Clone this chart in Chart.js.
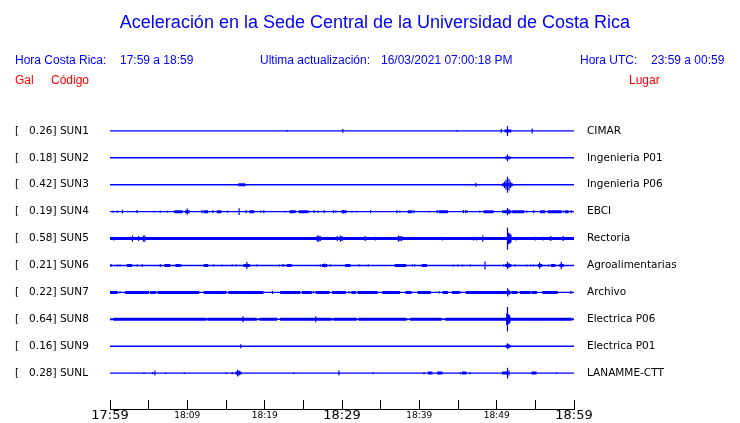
<!DOCTYPE html>
<html>
<head>
<meta charset="utf-8">
<script src="https://cdn.jsdelivr.net/npm/chart.js@4"></script>
<style>
  body { margin: 0; background: #fff; }
  #wrap { position: relative; width: 740px; height: 423px; }
  #chart { position: absolute; left: 0; top: 0; }
  .txt { position: absolute; font-family: "Liberation Sans", Arial, sans-serif; white-space: pre; line-height: 14px; }
  .blue { color: #0000ff; }
  .red { color: #ff0000; }
</style>
</head>
<body>
<div id="wrap">
  <canvas id="chart" width="740" height="423"></canvas>
  <div class="txt blue" style="left:0;width:750px;text-align:center;top:12px;font-size:18px;line-height:20px;">Aceleración en la Sede Central de la Universidad de Costa Rica</div>
  <div class="txt blue" style="left:15px;top:53px;font-size:12px;">Hora Costa Rica:</div>
  <div class="txt blue" style="left:120px;top:53px;font-size:12px;">17:59 a 18:59</div>
  <div class="txt blue" style="left:260px;top:53px;font-size:12px;">Ultima actualización:</div>
  <div class="txt blue" style="left:381px;top:53px;font-size:12px;">16/03/2021 07:00:18 PM</div>
  <div class="txt blue" style="left:580px;top:53px;font-size:12px;">Hora UTC:</div>
  <div class="txt blue" style="left:651px;top:53px;font-size:12px;">23:59 a 00:59</div>
  <div class="txt red" style="left:15px;top:73px;font-size:12px;">Gal</div>
  <div class="txt red" style="left:51px;top:73px;font-size:12px;">Código</div>
  <div class="txt red" style="left:629px;top:73px;font-size:12px;">Lugar</div>
</div>
<script>
// --- data: minutes after 17:59, amplitudes in Gal ---
const stations = ['SUN1', 'SUN2', 'SUN3', 'SUN4', 'SUN5', 'SUN6', 'SUN7', 'SUN8', 'SUN9', 'SUNL'];
const places = ['CIMAR', 'Ingenieria P01', 'Ingenieria P06', 'EBCI', 'Rectoria', 'Agroalimentarias',
                'Archivo', 'Electrica P06', 'Electrica P01', 'LANAMME-CTT'];
const peakGal = [0.26, 0.18, 0.42, 0.19, 0.58, 0.21, 0.22, 0.64, 0.16, 0.28];
const tickMinutes = [0, 5, 10, 15, 20, 25, 30, 35, 40, 45, 50, 55, 60];
const labelMinutes = [0, 10, 20, 30, 40, 50, 60];
const timeLabels = ['17:59', '18:09', '18:19', '18:29', '18:39', '18:49', '18:59'];
const majorLabels = ['17:59', '18:29', '18:59'];

// spikes: [minute, amplitude]  bursts: [from, to]
const spikesSUN1 = [[22.9, 0.05], [30.1, 0.10], [44.9, 0.05], [50.6, 0.10], [51.4, 0.26], [54.6, 0.13]];
const burstsSUN1 = [[51.2, 51.7]];

const spikesSUN2 = [[51.4, 0.18]];
const burstsSUN2 = [[51.3, 51.6]];

const spikesSUN3 = [[47.3, 0.10], [51.0, 0.17], [51.2, 0.26], [51.4, 0.42], [51.6, 0.30], [51.8, 0.17]];
const burstsSUN3 = [[16.8, 17.3], [50.9, 51.9]];

const spikesSUN4 = [[0.4, 0.06], [0.95, 0.06], [1.6, 0.10], [3.5, 0.08], [5.7, 0.05], [6.5, 0.06], [7.4, 0.05],
  [10.0, 0.16], [11.9, 0.08], [13.3, 0.08], [15.2, 0.06], [16.7, 0.18], [17.6, 0.08], [19.5, 0.06], [19.9, 0.08],
  [22.6, 0.05], [24.0, 0.06], [25.7, 0.06], [26.4, 0.08], [26.9, 0.06], [27.7, 0.08], [28.9, 0.08], [29.2, 0.06],
  [30.2, 0.10], [31.3, 0.05], [31.9, 0.05], [33.7, 0.08], [37.1, 0.08], [37.5, 0.06], [39.3, 0.08], [41.3, 0.05],
  [42.3, 0.08], [45.7, 0.08], [46.0, 0.08], [46.2, 0.06], [47.8, 0.06], [50.8, 0.08], [51.4, 0.19], [51.6, 0.12],
  [53.9, 0.06], [54.8, 0.08], [58.6, 0.06], [59.65, 0.08]];
const burstsSUN4 = [[8.5, 9.2], [9.9, 10.1], [12.3, 12.5], [14.0, 14.2], [18.2, 18.45], [23.4, 23.75], [24.6, 25.4],
  [30.1, 30.4], [38.7, 38.9], [42.7, 43.5], [48.5, 48.8], [49.1, 49.4], [51.1, 51.7], [52.2, 52.5], [52.9, 53.4],
  [55.8, 56.1], [56.8, 57.1], [57.3, 58.2], [59.0, 59.1]];

const spikesSUN5 = [[0.5, 0.10], [2.9, 0.16], [3.7, 0.13], [4.3, 0.16], [4.5, 0.16], [26.8, 0.16], [27.0, 0.16],
  [27.2, 0.13], [29.4, 0.13], [29.8, 0.16], [30.0, 0.13], [33.0, 0.13], [34.3, 0.10], [37.3, 0.16], [37.5, 0.13],
  [37.7, 0.13], [43.0, 0.10], [47.0, 0.10], [47.4, 0.10], [48.2, 0.16], [51.4, 0.58], [51.55, 0.30], [51.7, 0.26],
  [51.85, 0.20], [52.5, 0.10], [55.0, 0.10], [56.0, 0.10], [57.0, 0.13], [58.6, 0.13]];
const burstsSUN5 = [[0, 11.8], [12.0, 22.1], [22.4, 53.2], [53.4, 60]];

const spikesSUN6 = [[0.13, 0.08], [0.95, 0.05], [1.29, 0.05], [3.53, 0.06], [4.18, 0.08], [6.5, 0.08], [9.14, 0.08],
  [13.4, 0.06], [14.5, 0.05], [15.8, 0.06], [16.3, 0.06], [17.7, 0.18], [19.0, 0.06], [21.9, 0.05], [22.3, 0.06],
  [22.5, 0.06], [27.2, 0.05], [27.75, 0.10], [28.5, 0.06], [32.2, 0.06], [33.4, 0.06], [39.1, 0.06], [39.4, 0.06],
  [44.4, 0.05], [45.0, 0.06], [45.6, 0.05], [46.6, 0.06], [48.5, 0.21], [50.9, 0.06], [51.4, 0.20], [51.6, 0.12],
  [52.4, 0.06], [53.9, 0.05], [54.4, 0.05], [54.8, 0.06], [55.55, 0.17], [56.7, 0.05], [58.35, 0.20]];
const burstsSUN6 = [[2.37, 2.67], [7.24, 7.59], [8.66, 8.84], [12.3, 12.5], [17.45, 17.9], [23.06, 23.3], [27.6, 27.9],
  [30.6, 30.9], [37.0, 37.5], [37.7, 38.1], [40.5, 40.8], [51.3, 51.7], [55.5, 55.7], [57.2, 57.4], [58.3, 58.5]];

const spikesSUN7 = [[1.29, 0.06], [5.95, 0.06], [19.8, 0.06], [21.0, 0.08], [26.3, 0.06], [26.6, 0.06], [30.9, 0.06],
  [42.6, 0.06], [45.3, 0.06], [51.43, 0.22], [51.6, 0.12], [59.6, 0.08]];
const burstsSUN7 = [[0.0, 0.78], [2.15, 2.8], [3.02, 3.75], [4.1, 4.83], [5.39, 5.69], [6.34, 6.98], [7.33, 8.4],
  [8.62, 10.1], [10.35, 10.65], [10.86, 11.34], [12.3, 12.6], [12.8, 13.2], [13.6, 13.8], [14.1, 14.35], [14.57, 14.87],
  [15.5, 15.8], [16.0, 16.5], [16.9, 17.1], [17.4, 17.6], [18.0, 18.6], [18.8, 19.6], [22.2, 24.4], [25.0, 25.2],
  [25.4, 25.9], [26.85, 27.6], [27.9, 28.2], [28.9, 29.5], [29.8, 30.3], [31.4, 31.6], [32.2, 32.5], [32.8, 33.2],
  [33.5, 34.4], [35.4, 37.3], [38.4, 38.8], [40.0, 41.3], [43.2, 43.5], [44.4, 45.0], [46.2, 46.9], [47.2, 47.8],
  [48.2, 48.7], [49.0, 49.6], [49.8, 50.2], [50.4, 50.9], [51.2, 51.6], [52.1, 52.5], [53.2, 53.7], [53.98, 54.2],
  [54.7, 55.0], [56.1, 57.7]];

const spikesSUN8 = [[0.13, 0.06], [0.43, 0.06], [17.2, 0.16], [18.97, 0.06], [19.3, 0.06], [26.6, 0.16], [28.8, 0.06],
  [38.4, 0.06], [43.3, 0.06], [51.3, 0.30], [51.4, 0.64], [51.55, 0.26], [51.7, 0.20], [59.8, 0.06]];
const burstsSUN8 = [[0.65, 1.5], [1.72, 2.59], [2.8, 3.66], [3.88, 4.53], [4.74, 5.17], [5.52, 7.03], [7.24, 12.3],
  [12.8, 13.15], [13.4, 15.7], [15.95, 17.1], [17.45, 17.9], [18.2, 18.75], [19.6, 21.4], [22.2, 24.8], [24.9, 28.45],
  [29.1, 30.8], [31.1, 31.7], [32.3, 33.2], [33.5, 38.1], [39.0, 42.7], [43.6, 44.0], [44.3, 45.5], [45.8, 48.7],
  [48.9, 51.7], [52.1, 55.2], [55.6, 59.5]];

const spikesSUN9 = [[16.9, 0.10], [51.4, 0.16], [51.55, 0.10]];
const burstsSUN9 = [[51.35, 51.6]];

const spikesSUNL = [[4.4, 0.05], [5.5, 0.06], [5.8, 0.13], [7.2, 0.05], [9.6, 0.05], [15.0, 0.05], [15.8, 0.06],
  [16.5, 0.18], [16.7, 0.13], [23.8, 0.05], [29.6, 0.13], [34.05, 0.05], [40.6, 0.06], [45.3, 0.06], [46.55, 0.06],
  [51.4, 0.28], [51.6, 0.13], [57.76, 0.05]];
const burstsSUNL = [[16.4, 16.8], [41.3, 41.5], [42.5, 42.8], [45.7, 45.9], [50.9, 51.3], [54.7, 54.96]];

const allSpikes = [spikesSUN1, spikesSUN2, spikesSUN3, spikesSUN4, spikesSUN5, spikesSUN6, spikesSUN7, spikesSUN8, spikesSUN9, spikesSUNL];
const allBursts = [burstsSUN1, burstsSUN2, burstsSUN3, burstsSUN4, burstsSUN5, burstsSUN6, burstsSUN7, burstsSUN8, burstsSUN9, burstsSUNL];

// --- layout ---
const ROW_GAP = 1.4;   // Gal between traces
const TRACE = '#0000ff';
const rowBase = i => (stations.length - 1 - i) * ROW_GAP;
const rowIndex = v => stations.length - 1 - Math.round(v / ROW_GAP);

const datasets = [];
stations.forEach((st, i) => {
    const b = rowBase(i);
    datasets.push({ label: st, data: [{x: 0, y: b}, {x: 60, y: b}], borderWidth: 1.4 });
    const bd = [];
    allBursts[i].forEach(([s, e]) => { bd.push({x: s, y: b}, {x: e, y: b}, {x: e, y: null}); });
    datasets.push({ label: st + ' b', data: bd, borderWidth: 3, borderCapStyle: 'square' });
    const sd = [];
    allSpikes[i].forEach(([t, a]) => { sd.push({x: t, y: b - a}, {x: t, y: b + a}, {x: t, y: null}); });
    datasets.push({ label: st + ' s', data: sd, borderWidth: 1.2 });
});
datasets.forEach(d => {
    d.borderColor = TRACE;
    d.pointRadius = 0;
    d.fill = false;
    d.spanGaps = false;
    d.tension = 0;
});

const padLabel = i => '[\u00a0\u00a0\u00a0' + peakGal[i].toFixed(2) + '] ' + stations[i];
const rowTicks = s => { s.ticks = stations.map((_, i) => ({ value: rowBase(i) })); };
const noPad = s => { s.paddingTop = 0; s.paddingBottom = 0; s.paddingLeft = 0; s.paddingRight = 0; };
const yMin = -ROW_GAP * 4 / 3;
const yMax = ROW_GAP * stations.length;

new Chart(document.getElementById('chart'), {
    type: 'line',
    data: { datasets },
    options: {
        responsive: false,
        animation: false,
        events: [],
        layout: { padding: { left: 15, right: 0, top: 104, bottom: 0 } },
        plugins: { legend: { display: false }, tooltip: { enabled: false } },
        scales: {
            x: {
                type: 'linear', min: 0, max: 60,
                afterBuildTicks: s => { s.ticks = tickMinutes.map(v => ({ value: v })); },
                afterFit: s => { s.height = 14; noPad(s); },
                grid: { drawOnChartArea: false, drawTicks: true, tickLength: -9, color: '#000', lineWidth: 1 },
                border: { display: true, color: '#000', width: 1 },
                ticks: {
                    autoSkip: false, maxRotation: 0, padding: 8, color: '#000',
                    callback: v => { const k = labelMinutes.indexOf(v); return k >= 0 ? timeLabels[k] : ''; },
                    font: c => {
                        const k = labelMinutes.indexOf(c.tick ? c.tick.value : -1);
                        const big = k >= 0 && majorLabels.includes(timeLabels[k]);
                        return { family: 'DejaVu Sans', size: big ? 13 : 9, lineHeight: '16px' };
                    }
                }
            },
            y: {
                position: 'left', min: yMin, max: yMax,
                afterBuildTicks: rowTicks,
                afterFit: s => { s.width = 95; noPad(s); },
                grid: { display: false, drawTicks: false },
                border: { display: false },
                ticks: {
                    autoSkip: false, crossAlign: 'far', padding: 0, color: '#000',
                    font: { family: 'DejaVu Sans', size: 10.5 },
                    callback: v => padLabel(rowIndex(v))
                }
            },
            y2: {
                position: 'right', min: yMin, max: yMax,
                afterBuildTicks: rowTicks,
                afterFit: s => { s.width = 166; noPad(s); },
                grid: { display: false, drawTicks: false },
                border: { display: false },
                ticks: {
                    autoSkip: false, crossAlign: 'near', padding: 13, color: '#000',
                    font: { family: 'DejaVu Sans', size: 10.5 },
                    callback: v => places[rowIndex(v)]
                }
            }
        }
    }
});
</script>
</body>
</html>
